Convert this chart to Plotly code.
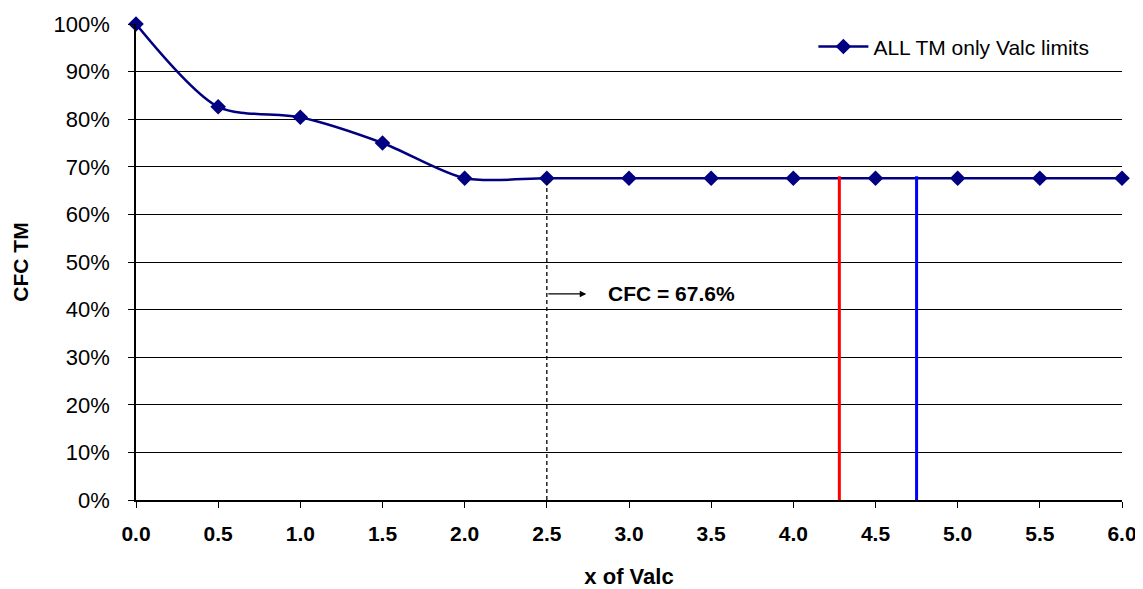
import plotly.graph_objects as go

x_vals = [0.0, 0.5, 1.0, 1.5, 2.0, 2.5, 3.0, 3.5, 4.0, 4.5, 5.0, 5.5, 6.0]
cfc_vals = [1.00, 0.826, 0.804, 0.750, 0.676, 0.676, 0.676, 0.676, 0.676, 0.676, 0.676, 0.676, 0.676]
series_name = "ALL TM only Valc limits"
red_x = 4.28
blue_x = 4.75
limit_top = 0.68
dash_x = 2.5
cfc_value = 0.676
arrow_y = 0.433
x_ticks = [0.0, 0.5, 1.0, 1.5, 2.0, 2.5, 3.0, 3.5, 4.0, 4.5, 5.0, 5.5, 6.0]
y_ticks = [0, 0.1, 0.2, 0.3, 0.4, 0.5, 0.6, 0.7, 0.8, 0.9, 1.0]

fig = go.Figure()
fig.add_trace(go.Scatter(
    x=x_vals, y=cfc_vals, mode="lines+markers", name=series_name,
    line=dict(color="#000080", width=2.5, shape="spline", smoothing=0.8),
    marker=dict(symbol="diamond", size=12, color="#000080"),
    cliponaxis=False,
))
fig.add_trace(go.Scatter(x=[dash_x, dash_x], y=[0, cfc_value], mode="lines",
                         line=dict(color="black", width=1.3, dash="4px,3px"), showlegend=False))
fig.add_trace(go.Scatter(x=[red_x, red_x], y=[0, limit_top], mode="lines",
                         line=dict(color="#FF0000", width=3), showlegend=False))
fig.add_trace(go.Scatter(x=[blue_x, blue_x], y=[0, limit_top], mode="lines",
                         line=dict(color="#0000FF", width=3), showlegend=False))

fig.add_annotation(x=2.74, y=arrow_y, ax=dash_x, ay=arrow_y, xref="x", yref="y",
                   axref="x", ayref="y", text="", showarrow=True,
                   arrowhead=2, arrowsize=1, arrowwidth=1.3, arrowcolor="black")
fig.add_annotation(x=2.86, y=arrow_y, xref="x", yref="y", text="<b>CFC = 67.6%</b>",
                   showarrow=False, xanchor="left",
                   font=dict(family="Liberation Sans, Arial", size=21, color="black"))

fig.update_layout(
    width=1135, height=581,
    margin=dict(l=128, r=21, t=16, b=89),
    plot_bgcolor="white", paper_bgcolor="white",
    font=dict(family="Liberation Sans, Arial", color="black"),
    showlegend=True,
    legend=dict(x=0.972, y=0.995, xanchor="right", yanchor="top",
                font=dict(size=21, color="black"), bgcolor="rgba(255,255,255,0)",
                itemwidth=50),
    xaxis=dict(range=[0, 6], tickvals=x_ticks,
               ticktext=[f"<b>{v:.1f}</b>" for v in x_ticks],
               tickfont=dict(size=21), showgrid=False, zeroline=False,
               showline=True, linecolor="black", linewidth=1.5,
               ticks="outside", ticklen=6, tickcolor="black", automargin=False,
               ticklabelstandoff=8,
               title=dict(text="<b>x of Valc</b>", font=dict(size=22), standoff=30)),
    yaxis=dict(range=[0, 1.0], tickvals=y_ticks, tickformat=".0%",
               tickfont=dict(size=22), showgrid=True, gridcolor="black", gridwidth=1.2,
               zeroline=False, showline=True, linecolor="black", linewidth=1.5,
               ticks="outside", ticklen=6, tickcolor="black", automargin=False,
               ticklabelstandoff=14,
               title=dict(text="<b>CFC TM</b>", font=dict(size=21), standoff=19)),
)

fig.write_html("out.html")
